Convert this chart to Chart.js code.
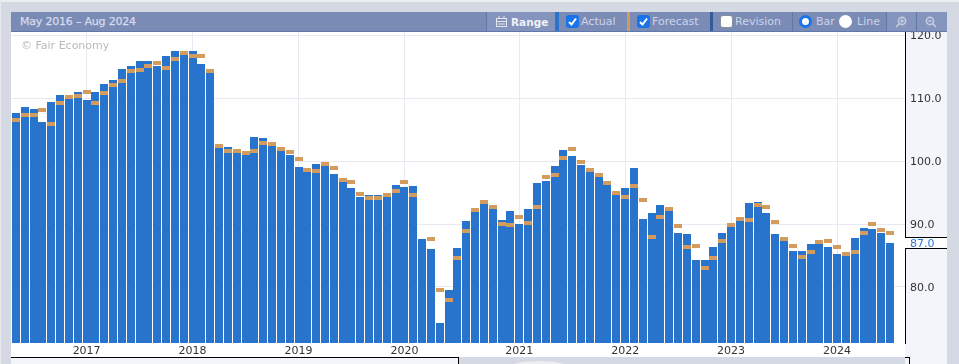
<!DOCTYPE html>
<html><head><meta charset="utf-8">
<script src="https://cdn.jsdelivr.net/npm/chart.js@4"></script>
<style>
html,body{margin:0;padding:0;width:959px;height:364px;overflow:hidden;background:#d5d9e3;font-family:"DejaVu Sans",sans-serif}
#wrap{position:relative;width:959px;height:364px;overflow:hidden}
.a{position:absolute}
#top{left:0;top:0;width:959px;height:2px;background:#eceef2}
#edge{left:0;top:0;width:1px;height:364px;background:#e6e8ee}
#plotbg{left:11px;top:32px;width:894px;height:325px;background:#fff}
#axisbg{left:905px;top:32px;width:42px;height:332px;background:#f4f5fa}
#lowbg{left:11px;top:357px;width:447px;height:7px;background:#f4f5fa;border-top:1px solid #000;box-sizing:border-box}
#lowr{left:458px;top:357px;width:1px;height:7px;background:#000}
#notch{left:905px;top:357px;width:4px;height:1px;background:#000}
#notch2{left:909px;top:357px;width:1px;height:7px;background:#000}
#blob{left:508px;top:361px;width:62px;height:16px;border-radius:50%;background:#eceef3}
canvas{position:absolute;left:0;top:0}
#hdr{left:11px;top:12px;width:936px;height:20px;background:#7a8bb6;border-bottom:1px solid #5f77aa;box-sizing:border-box;z-index:3}
.t{position:absolute;top:3px;font-size:11px;line-height:14px;color:#ccd4e7;white-space:nowrap}
.seg{position:absolute;top:0;height:19px}
.box{position:absolute;top:3px;width:13px;height:13px;border-radius:3px;box-sizing:border-box}
.box svg{display:block}
.on{background:#1a73e8}.off{background:#fff;border:1px solid #8a8f9c}
.rad{position:absolute;top:3px;width:13px;height:13px;border-radius:50%;box-sizing:border-box;background:#fff}
#mark{left:21px;top:39px;font-size:11px;line-height:14px;color:#b9b9b9;z-index:2}
</style></head><body>
<div id="wrap">
<div class="a" id="top"></div><div class="a" id="edge"></div>
<div class="a" id="plotbg"></div><div class="a" id="axisbg"></div>
<div class="a" id="blob"></div>
<div class="a" id="lowbg"></div><div class="a" id="lowr"></div><div class="a" id="notch"></div><div class="a" id="notch2"></div>
<canvas id="c" width="959" height="364"></canvas>
<div class="a" id="mark">© Fair Economy</div>
<div class="a" id="hdr">
  <div class="t" style="left:9px;color:#d6dcec;-webkit-text-stroke:.25px #d6dcec;letter-spacing:-.2px">May 2016 – Aug 2024</div>
  <div class="seg" style="left:475px;width:1px;background:#5f77aa"></div>
  <div class="seg" style="left:476px;width:68px;background:#8494bc"></div>
  <svg style="position:absolute;left:485px;top:4px" width="11" height="11" viewBox="0 0 11 11" fill="none" stroke="#e4e8f2" stroke-width="1"><rect x=".5" y="2.5" width="10" height="8"/><path d="M0 5.5h11M3 0v3M8 0v3M2 8h7"/></svg>
  <div class="t" style="left:500px;font-weight:bold;font-size:10.5px;color:#eef1f8">Range</div>
  <div class="seg" style="left:544px;width:4px;background:#2a74cc"></div>
  <div class="box on" style="left:555px"><svg width="13" height="13" viewBox="0 0 13 13"><path d="M3 7l2.5 2.5L10 3.5" fill="none" stroke="#fff" stroke-width="2"/></svg></div>
  <div class="t" style="left:570px">Actual</div>
  <div class="seg" style="left:616px;width:3px;background:#d29a5c"></div>
  <div class="box on" style="left:626px"><svg width="13" height="13" viewBox="0 0 13 13"><path d="M3 7l2.5 2.5L10 3.5" fill="none" stroke="#fff" stroke-width="2"/></svg></div>
  <div class="t" style="left:641px">Forecast</div>
  <div class="seg" style="left:699px;width:3px;background:#345a9a"></div>
  <div class="box off" style="left:709px"></div>
  <div class="t" style="left:724px">Revision</div>
  <div class="seg" style="left:781px;width:1px;background:#5f77aa"></div>
  <div class="rad" style="left:788px;border:3px solid #1a73e8"></div>
  <div class="t" style="left:805px">Bar</div>
  <div class="rad" style="left:828px"></div>
  <div class="t" style="left:846px">Line</div>
  <div class="seg" style="left:875px;width:1px;background:#5f77aa"></div>
  <div class="seg" style="left:876px;width:60px;background:#8494bc"></div>
  <div class="seg" style="left:905px;width:1px;background:#5f77aa"></div>
  <svg style="position:absolute;left:884px;top:4px" width="12" height="12" viewBox="0 0 12 12" fill="none" stroke="#c3cce0" stroke-width="1.6"><circle cx="7" cy="5" r="3.6"/><path d="M4.5 7.5L1 11M5.2 5h3.6M7 3.2v3.6"/></svg>
  <svg style="position:absolute;left:914px;top:4px" width="12" height="12" viewBox="0 0 12 12" fill="none" stroke="#c3cce0" stroke-width="1.6"><circle cx="5" cy="5" r="3.6"/><path d="M7.5 7.5L11 11M3.2 5h3.6"/></svg>
</div>
</div>
<script>
const actual=[107.6,108.6,108.3,106.2,109.4,110.5,109.8,111.0,109.7,111.0,112.2,112.9,114.6,115.1,115.9,115.9,115.1,116.7,117.5,117.1,117.5,115.4,114.1,102.2,102.2,101.5,101.2,103.8,103.7,102.4,101.7,101.0,99.0,98.3,99.5,
99.4,97.9,96.7,95.7,94.3,94.6,94.6,94.3,96.2,95.9,96.0,87.6,86.0,74.3,79.5,86.2,90.5,92.0,93.2,92.4,90.6,92.1,90.0,92.4,96.5,96.8,99.2,101.7,100.8,99.4,98.3,97.5,96.2,94.6,95.7,98.9,
90.8,91.7,93.0,92.1,88.6,88.4,84.3,84.3,86.3,88.6,89.6,90.5,93.3,93.5,91.7,88.4,87.3,85.7,85.7,86.8,86.8,86.3,85.2,84.9,87.8,89.4,89.2,88.6,87.0];
const forecast=[106.5,107.3,107.3,108.1,105.9,109.2,110.2,110.3,111.0,109.2,110.8,112.1,112.7,114.3,114.4,115.1,115.6,114.8,116.2,117.1,116.7,116.7,114.3,102.4,101.6,101.6,101.3,101.6,102.9,102.7,101.9,101.4,100.3,98.6,98.4,
99.5,98.9,97.0,96.7,94.8,94.1,94.1,94.6,95.2,96.7,94.6,null,87.6,79.5,77.9,84.6,88.9,92.2,93.5,92.7,90.0,89.8,91.1,90.2,92.7,97.5,97.8,100.5,101.9,99.8,98.6,97.8,96.5,94.9,94.3,96.0,
93.8,87.9,91.1,92.4,89.7,86.3,86.5,83.0,84.6,87.3,89.8,90.8,90.6,93.0,92.7,90.3,87.6,86.5,84.8,85.6,87.1,87.3,86.3,85.2,85.6,88.6,90.0,89.0,88.6];
const yearLabels=['2017','2018','2019','2020','2021','2022','2023','2024'];
const yearIndex=[8,20,32,44,57,69,81,93];
const yTicks=[80,90,100,110,120];

const actualColor='#2874cd', forecastColor='#d49b5e';
const marker=document.createElement('canvas');marker.width=8;marker.height=4;
const mc=marker.getContext('2d');mc.fillStyle=forecastColor;mc.fillRect(0,0,8,4);

const snap={id:'snap',beforeDatasetsDraw(ch){
  ch.data.datasets.forEach((d,i)=>{ch.getDatasetMeta(i).data.forEach(el=>{
    if(el.skip)return;
    el.x=Math.round(el.x);el.y=Math.round(el.y);});});
}};
const callout={id:'callout',afterDraw(ch){
  const c=ch.ctx,s=ch.scales.y,v=actual[actual.length-1],y=Math.round(s.getPixelForValue(v));
  c.save();
  c.fillStyle='#fff';c.fillRect(905,y-6,42,11);
  c.fillStyle='#000';c.fillRect(905,y-6,42,1);c.fillRect(905,y+5,42,1);
  c.fillStyle='#2a78d6';c.font='11px "DejaVu Sans"';c.textAlign='left';c.textBaseline='middle';
  c.fillText(v.toFixed(1),910,y+1);
  c.restore();
}};
new Chart(document.getElementById('c'),{
  type:'bar',
  data:{datasets:[
    {type:'bar',label:'Actual',order:1,data:actual.map((y,x)=>({x,y})),backgroundColor:actualColor,barThickness:8,borderWidth:0,inflateAmount:0},
    {type:'line',label:'Forecast',order:0,data:forecast.map((y,x)=>({x,y})),showLine:false,pointStyle:marker,pointRadius:4,pointHoverRadius:4}
  ]},
  plugins:[snap,callout],
  options:{
    responsive:false,animation:false,events:[],
    layout:{padding:{left:11,top:32,right:12,bottom:7}},
    plugins:{legend:{display:false},tooltip:{enabled:false}},
    scales:{
      x:{type:'linear',offset:false,min:-0.566,max:100.7,
        afterBuildTicks(a){a.ticks=yearIndex.map(value=>({value}));},
        afterFit(a){a.height=14;},
        grid:{offset:false,color:'#e8e9f2',lineWidth:1,drawTicks:false},
        border:{display:false},
        ticks:{autoSkip:false,maxRotation:0,padding:2,color:'#333',font:{family:'"DejaVu Sans"',size:11},
          callback(v){const i=yearIndex.indexOf(v);return i<0?'':yearLabels[i];}}},
      y:{position:'right',min:71.11,max:120.48,
        afterBuildTicks(a){a.ticks=yTicks.map(value=>({value}));},
        afterFit(a){a.width=42;},
        grid:{color:'#e8e9f2',lineWidth:1,drawTicks:false},
        border:{display:true,color:'#000',width:1},
        ticks:{padding:5,labelOffset:1,color:'#333',font:{family:'"DejaVu Sans"',size:11},callback:v=>v.toFixed(1)}}
    }
  }
});
</script>
</body></html>
